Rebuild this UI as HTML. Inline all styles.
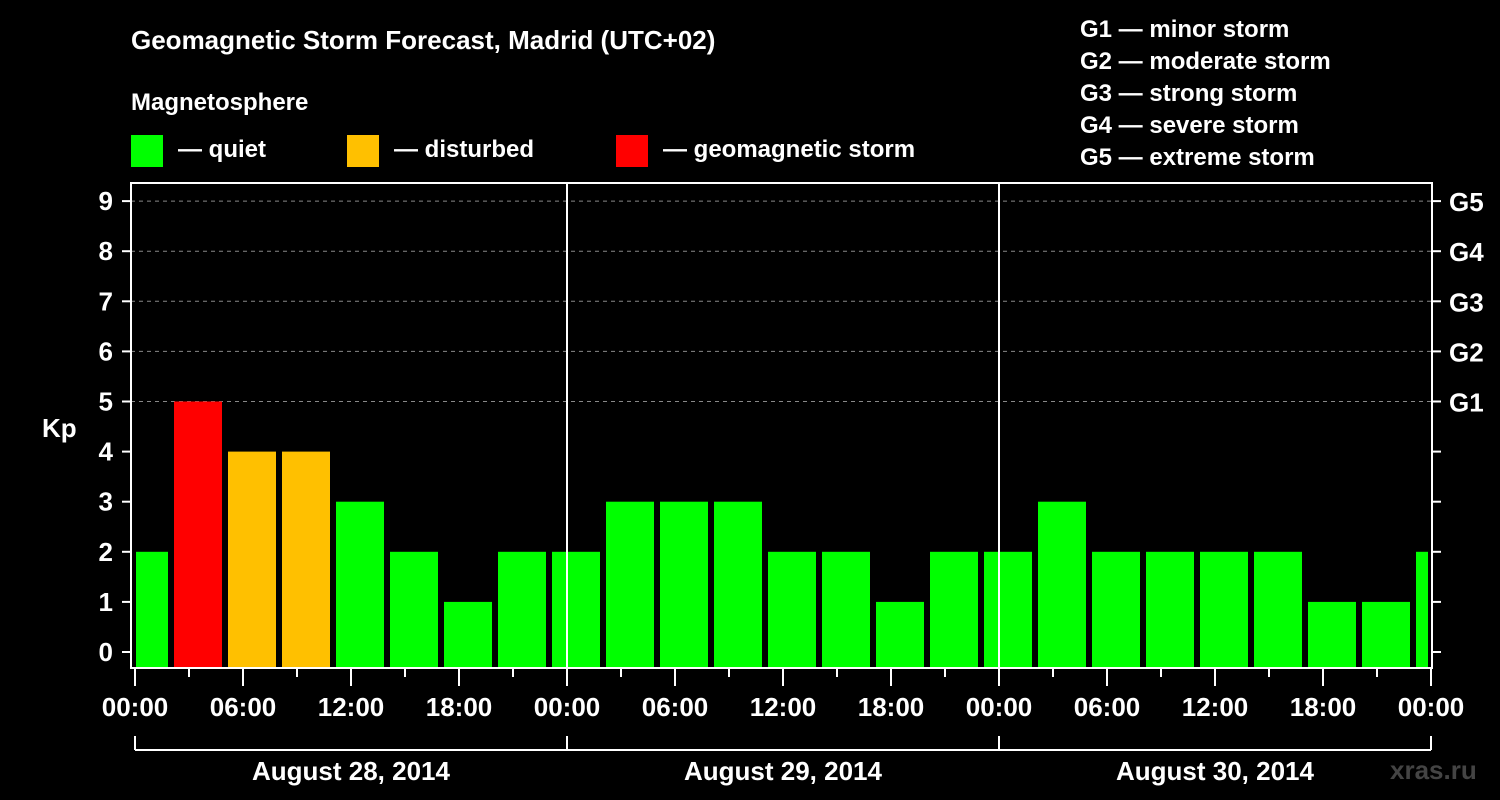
<!DOCTYPE html>
<html><head><meta charset="utf-8"><style>
html,body{margin:0;padding:0;background:#000;}
svg{display:block;font-family:"Liberation Sans",Arial,sans-serif;font-weight:bold;}
</style></head><body>
<svg id="c" width="1500" height="800" viewBox="0 0 1500 800">
<rect width="1500" height="800" fill="#000"/>
<text x="131" y="49" fill="#fff" font-size="26">Geomagnetic Storm Forecast, Madrid (UTC+02)</text>
<text x="131" y="110" fill="#fff" font-size="24">Magnetosphere</text>
<g><rect x="131" y="135" width="32" height="32" fill="#00ff00"/><text x="178" y="157" fill="#fff" font-size="24">— quiet</text></g>
<g><rect x="347" y="135" width="32" height="32" fill="#ffc000"/><text x="394" y="157" fill="#fff" font-size="24">— disturbed</text></g>
<g><rect x="616" y="135" width="32" height="32" fill="#ff0000"/><text x="663" y="157" fill="#fff" font-size="24">— geomagnetic storm</text></g>
<g fill="#fff" font-size="24">
<text x="1080" y="37">G1 — minor storm</text>
<text x="1080" y="69">G2 — moderate storm</text>
<text x="1080" y="101">G3 — strong storm</text>
<text x="1080" y="133">G4 — severe storm</text>
<text x="1080" y="165">G5 — extreme storm</text>
</g>
<text x="42" y="437" fill="#fff" font-size="26">Kp</text>
<text x="1390" y="779" fill="#444" font-size="26">xras.ru</text>
<g id="g"></g>
</svg>
<script>
const values = [2, 5,4,4,3,2,1,2,2, 3,3,3,2,2,1,2,2, 3,2,2,2,2,1,1,2];
const startHours = [-1, 2,5,8,11,14,17,20,23, 26,29,32,35,38,41,44,47, 50,53,56,59,62,65,68,71];
const dayLabels = ["August 28, 2014","August 29, 2014","August 30, 2014"];
const xTickLabels = ["00:00","06:00","12:00","18:00"];
const gLabels = ["G1","G2","G3","G4","G5"];
const ns="http://www.w3.org/2000/svg";
const g=document.getElementById('g');
const X0=135, PXH=18, L=131, R=1432, T=183, B=668;
const xs=h=>X0+h*PXH;
const ys=v=>652-v*50.1;
function col(v){return v>=5?'#ff0000':(v>=4?'#ffc000':'#00ff00');}
function mk(tag,a,p){const e=document.createElementNS(ns,tag);for(const k in a)e.setAttribute(k,a[k]);(p||g).appendChild(e);return e;}
// grid
for(let v=5;v<=9;v++){
  const l=mk('line',{x1:L,x2:R,y1:ys(v),y2:ys(v),stroke:'#888','stroke-dasharray':'4,4','stroke-width':1});
  
  
}
// bars
values.forEach((v,i)=>{
  let x1=xs(startHours[i])+3, x2=xs(startHours[i]+3)-3;
  x1=Math.max(x1,L+5); x2=Math.min(x2,R-4);
  const r=mk('rect',{x:x1,y:ys(v),width:x2-x1,height:B-ys(v),fill:col(v)});
  
  
});
// frame
const f=mk('rect',{x:L,y:T,width:R-L,height:B-T,fill:'none',stroke:'#fff','stroke-width':2});


[1,2].forEach(d=>{const l=mk('line',{x1:xs(24*d),x2:xs(24*d),y1:T,y2:B,stroke:'#fff','stroke-width':2});

});
// y ticks
for(let v=0;v<=9;v++){
  mk('line',{x1:122,x2:L,y1:ys(v),y2:ys(v),stroke:'#fff','stroke-width':2});
  mk('line',{x1:R,x2:1441,y1:ys(v),y2:ys(v),stroke:'#fff','stroke-width':2});
  const t=mk('text',{x:113,y:ys(v)+9,fill:'#fff','font-size':26,'text-anchor':'end'});
  t.textContent=v;
  
  
}
gLabels.forEach((s,i)=>{const t=mk('text',{x:1449,y:ys(5+i)+10,fill:'#fff','font-size':26});t.textContent=s;

});
// x ticks
for(let h=0;h<=72;h+=3){
  const major=h%6===0;
  mk('line',{x1:xs(h),x2:xs(h),y1:B,y2:major?686:677,stroke:'#fff','stroke-width':2});
  if(major){const t=mk('text',{x:xs(h),y:716,fill:'#fff','font-size':26,'text-anchor':'middle'});
    t.textContent=xTickLabels[(h/6)%4];
    
    }
}
// day brackets
mk('line',{x1:xs(0),x2:xs(72),y1:750,y2:750,stroke:'#fff','stroke-width':2});
for(let d=0;d<=3;d++) mk('line',{x1:xs(24*d),x2:xs(24*d),y1:736,y2:750,stroke:'#fff','stroke-width':2});
dayLabels.forEach((s,d)=>{const t=mk('text',{x:xs(24*d+12),y:780,fill:'#fff','font-size':26,'text-anchor':'middle'});t.textContent=s;

});
</script>
</body></html>
